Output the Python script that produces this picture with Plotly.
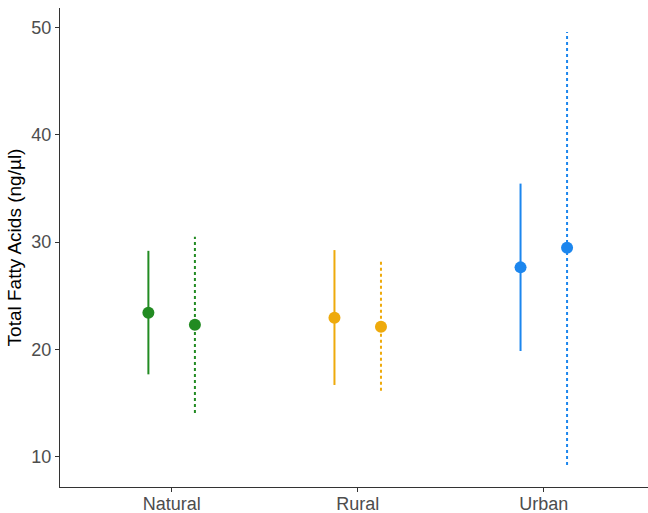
import plotly.graph_objects as go

categories = ["Natural", "Rural", "Urban"]
colors = ["#228B22", "#EEAA0C", "#1C86EE"]

# solid series (first in each pair)
solid_mean = [23.42, 22.96, 27.65]
solid_low = [17.69, 16.70, 19.86]
solid_high = [29.19, 29.26, 35.45]

# dashed series (second in each pair)
dashed_mean = [22.30, 22.12, 29.47]
dashed_low = [14.10, 16.17, 9.26]
dashed_high = [30.50, 28.17, 49.56]

dodge = 0.125

fig = go.Figure()

def add_series(means, lows, highs, offset, dash):
    for i, cat in enumerate(categories):
        x = i + 1 + offset
        fig.add_trace(go.Scatter(
            x=[x, x], y=[lows[i], highs[i]], mode="lines",
            line=dict(color=colors[i], width=2, dash=dash),
            showlegend=False, hoverinfo="skip"))
        fig.add_trace(go.Scatter(
            x=[x], y=[means[i]], mode="markers",
            marker=dict(color=colors[i], size=12, line=dict(width=0)),
            showlegend=False))

add_series(solid_mean, solid_low, solid_high, -dodge, "solid")
add_series(dashed_mean, dashed_low, dashed_high, dodge, "3px,3px")

fig.update_layout(
    width=648, height=513,
    margin=dict(l=60, r=0, t=8, b=26),
    paper_bgcolor="white", plot_bgcolor="white",
    font=dict(family="Liberation Sans, Arial, sans-serif"),
    xaxis=dict(
        range=[0.4, 3.56], tickmode="array", tickvals=[1, 2, 3], ticktext=categories,
        showgrid=False, zeroline=False, showline=True, linecolor="#333333", linewidth=1,
        ticks="outside", ticklen=4, tickcolor="#333333", automargin=False,
        ticklabelstandoff=-4,
        tickfont=dict(size=18, color="#4D4D4D")),
    yaxis=dict(
        range=[7.2, 51.8], tickvals=[10, 20, 30, 40, 50],
        showgrid=False, zeroline=False, showline=True, linecolor="#333333", linewidth=1,
        ticks="outside", ticklen=4, tickcolor="#333333", automargin=False,
        tickfont=dict(size=18, color="#4D4D4D"),
        title=dict(text="Total Fatty Acids (ng/µl)", font=dict(size=19, color="black"), standoff=4)),
)

fig.write_html("out.html", config={"displayModeBar": False},
               post_script="document.body.style.margin='0';document.body.style.overflow='hidden';")
